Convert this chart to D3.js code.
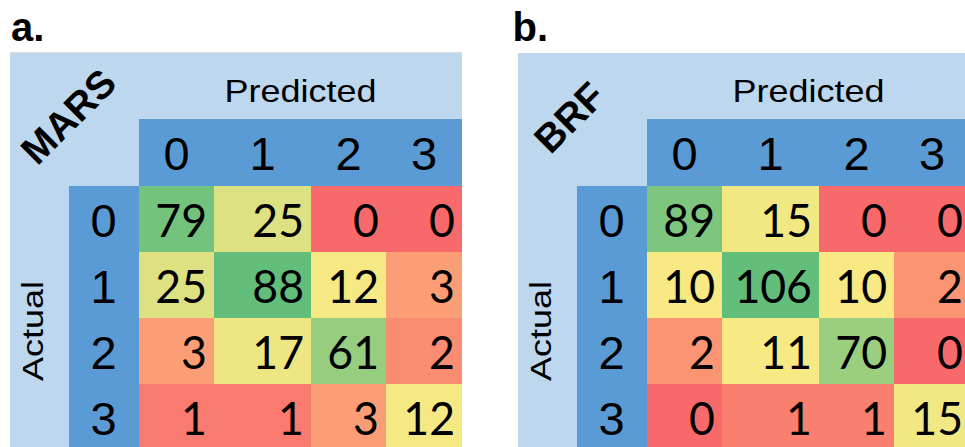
<!DOCTYPE html>
<html>
<head>
<meta charset="utf-8">
<script src="https://cdn.jsdelivr.net/npm/d3@7"></script>
<style>
  body { margin: 0; background: #fff; }
  svg { display: block; }
</style>
</head>
<body>
<svg id="chart" width="965" height="447"></svg>
<script>
// Class labels shared by both confusion matrices
const classes = ["0", "1", "2", "3"];
const panelLetters = ["a.", "b."];
const modelNames = ["MARS", "BRF"];
const predictedTitle = "Predicted";
const actualTitle = "Actual";

// Counts: rows = actual class, columns = predicted class
const marsCounts = [
  [79, 25, 0, 0],
  [25, 88, 12, 3],
  [3, 17, 61, 2],
  [1, 1, 3, 12]
];
const brfCounts = [
  [89, 15, 0, 0],
  [10, 106, 10, 2],
  [2, 11, 70, 0],
  [0, 1, 1, 15]
];

// ---- layout ----
const panelOffsets = [0, 508];
const letterX = [11, 512.5];
const nameCenters = [[68, 116], [61, 117]];
const boxLeft = 10, boxTop = 53, boxBottom = 460;
const rowHeadLeft = 69, gridLeft = 139, headTop = 119, gridTop = 186, rowH = 66;
const colWidths = [75, 97, 75, 76];

const LIGHT = "#BDD7EE", DARK = "#5B9BD5";
const SANS = "'Liberation Sans', Arial, sans-serif";
const svg = d3.select("#chart");

const edges = [gridLeft, ...d3.cumsum(colWidths).map(d => gridLeft + d)];
const xLeft = d3.scaleOrdinal(classes, edges.slice(0, -1));
const xRight = d3.scaleOrdinal(classes, edges.slice(1));
const y = d3.scaleBand(classes, [gridTop, gridTop + rowH * classes.length]);
const gridRight = edges[edges.length - 1];

function drawPanel(counts, idx) {
  const g = svg.append("g").attr("transform", `translate(${panelOffsets[idx]},0)`);
  const flat = counts.flat();
  // three-colour scale: min red, median yellow, max green
  const color = d3.scaleLinear()
    .domain([d3.min(flat), d3.median(flat), d3.max(flat)])
    .range(["#F8696B", "#FFEB84", "#63BE7B"]);

  // light background box
  g.append("rect").attr("x", boxLeft).attr("y", boxTop)
    .attr("width", gridRight - boxLeft).attr("height", boxBottom - boxTop)
    .attr("fill", LIGHT);
  if (idx === 0) {
    g.append("line").attr("x1", boxLeft).attr("x2", gridRight)
      .attr("y1", boxTop - 0.5).attr("y2", boxTop - 0.5)
      .attr("stroke", "#D6DCE2").attr("stroke-width", 1);
  }

  // header bands
  g.append("rect").attr("x", gridLeft).attr("y", headTop)
    .attr("width", gridRight - gridLeft).attr("height", gridTop - headTop)
    .attr("fill", DARK);
  g.append("rect").attr("x", rowHeadLeft).attr("y", gridTop)
    .attr("width", gridLeft - rowHeadLeft).attr("height", boxBottom - gridTop)
    .attr("fill", DARK);

  // cells
  const cells = [];
  counts.forEach((row, r) => row.forEach((v, c) =>
    cells.push({ actual: classes[r], pred: classes[c], v })));

  g.selectAll("rect.cell").data(cells).join("rect")
    .attr("class", "cell")
    .attr("x", d => xLeft(d.pred))
    .attr("y", d => y(d.actual))
    .attr("width", d => xRight(d.pred) - xLeft(d.pred))
    .attr("height", y.bandwidth())
    .attr("fill", d => color(d.v));

  g.selectAll("text.val").data(cells).join("text")
    .attr("class", "val")
    .attr("transform", d =>
      `translate(${xRight(d.pred) - 7},${y(d.actual) + y.bandwidth() / 2 + 17.5}) scale(0.97,1)`)
    .attr("text-anchor", "end")
    .attr("font-family", "Lato, 'Open Sans', sans-serif")
    .attr("font-size", 46)
    .attr("fill", "#000")
    .text(d => d.v);

  // predicted class labels
  g.selectAll("text.colhead").data(classes).join("text")
    .attr("class", "colhead")
    .attr("x", d => (xLeft(d) + xRight(d)) / 2)
    .attr("y", (headTop + gridTop) / 2 + 17.5)
    .attr("text-anchor", "middle")
    .attr("font-family", SANS)
    .attr("font-size", 47)
    .text(d => d);

  // actual class labels
  g.selectAll("text.rowhead").data(classes).join("text")
    .attr("class", "rowhead")
    .attr("x", (rowHeadLeft + gridLeft) / 2 - 0.5)
    .attr("y", d => y(d) + y.bandwidth() / 2 + 17.5)
    .attr("text-anchor", "middle")
    .attr("font-family", SANS)
    .attr("font-size", 47)
    .text(d => d);

  // axis titles
  g.append("text")
    .attr("x", (gridLeft + gridRight) / 2).attr("y", 101.5)
    .attr("text-anchor", "middle")
    .attr("font-family", SANS)
    .attr("font-size", 32)
    .attr("textLength", 152).attr("lengthAdjust", "spacingAndGlyphs")
    .text(predictedTitle);

  g.append("text")
    .attr("transform", `translate(43,331) rotate(-90)`)
    .attr("text-anchor", "middle")
    .attr("font-family", SANS)
    .attr("font-size", 29)
    .attr("textLength", 100).attr("lengthAdjust", "spacingAndGlyphs")
    .text(actualTitle);

  // model name, diagonal in the corner
  g.append("text")
    .attr("transform", `translate(${nameCenters[idx][0]},${nameCenters[idx][1]}) rotate(-45)`)
    .attr("text-anchor", "middle")
    .attr("dy", "0.36em")
    .attr("font-family", SANS)
    .attr("font-weight", "bold")
    .attr("font-size", 39)
    .text(modelNames[idx]);

  // panel letter
  svg.append("text")
    .attr("x", letterX[idx]).attr("y", 41)
    .attr("font-family", SANS)
    .attr("font-weight", "bold")
    .attr("font-size", 40)
    .text(panelLetters[idx]);
}

[marsCounts, brfCounts].forEach(drawPanel);
</script>
</body>
</html>
